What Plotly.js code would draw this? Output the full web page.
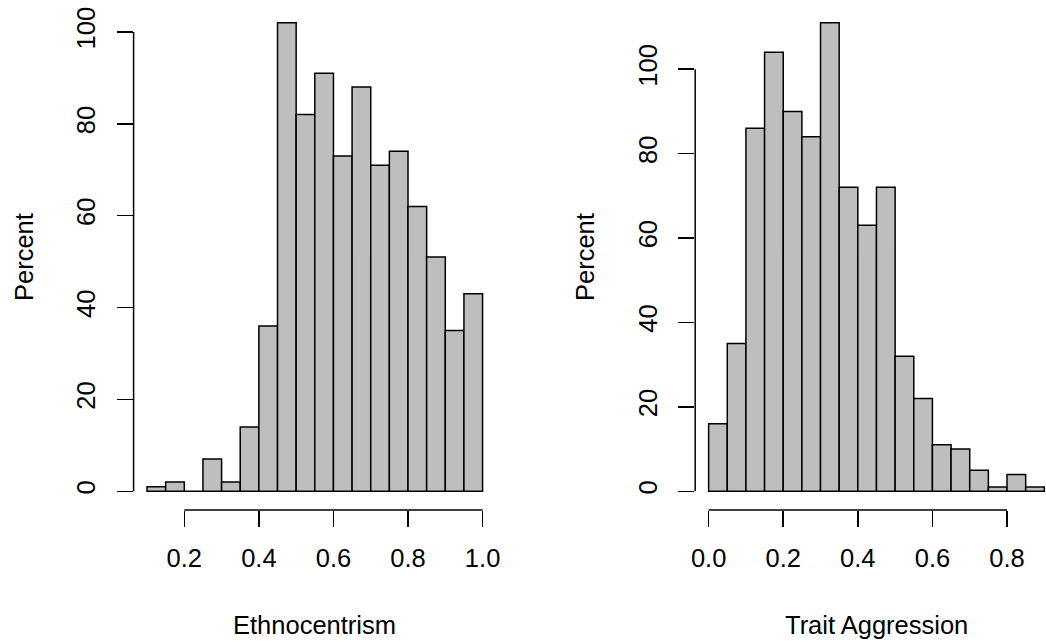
<!DOCTYPE html>
<html><head><meta charset="utf-8">
<script src="https://cdn.plot.ly/plotly-3.0.1.min.js"></script>
<style>html,body{margin:0;padding:0;background:#fff}#chart{width:1046px;height:644px}</style>
</head><body><div id="chart"></div>
<script>
// ---- data ----
const ethnoBinStarts = [0.10,0.15,0.20,0.25,0.30,0.35,0.40,0.45,0.50,0.55,0.60,0.65,0.70,0.75,0.80,0.85,0.90,0.95];
const ethnoCounts    = [1,2,0,7,2,14,36,102,82,91,73,88,71,74,62,51,35,43];
const aggrBinStarts  = [0.00,0.05,0.10,0.15,0.20,0.25,0.30,0.35,0.40,0.45,0.50,0.55,0.60,0.65,0.70,0.75,0.80,0.85];
const aggrCounts     = [16,35,86,104,90,84,111,72,63,72,32,22,11,10,5,1,4,1];
const binWidth = 0.05;
const ethnoXTicks = [0.2,0.4,0.6,0.8,1.0];
const ethnoXTickText = ["0.2","0.4","0.6","0.8","1.0"];
const aggrXTicks = [0.0,0.2,0.4,0.6,0.8];
const aggrXTickText = ["0.0","0.2","0.4","0.6","0.8"];
const yTicks = [0,20,40,60,80,100];
const yTickText = ["0","20","40","60","80","100"];
const xTitles = ["Ethnocentrism","Trait Aggression"];
const yTitle = "Percent";

// ---- layout geometry (pixels) ----
const W = 1046, H = 644;
const FONT = "Liberation Sans, Arial, Helvetica, sans-serif";
const fs = 25.5;
const yDom = [1 - 510/H, 1 - 4/H];
const x1Dom = [133.6/W, 496/W];
const x2Dom = [695.2/W, 1];

function barTrace(starts, counts, xa, ya) {
  return {
    type: 'bar', x: starts, y: counts, width: binWidth, offset: 0,
    xaxis: xa, yaxis: ya,
    marker: {color: '#bebebe', line: {color: '#000', width: 1.5}},
    hoverinfo: 'x+y', showlegend: false
  };
}

function xAxis(dom, range, ticks, text, anchor) {
  return {domain: dom, range: range, anchor: anchor, showgrid: false, zeroline: false,
    showline: false, ticks: 'outside', ticklen: 16, tickwidth: 1.5, tickcolor: '#000',
    tickvals: ticks, ticktext: text, tickfont: {family: FONT, size: fs, color: '#000'},
    ticklabelstandoff: 9, fixedrange: true};
}
function yAxis(range, anchor) {
  return {domain: yDom, range: range, anchor: anchor, showgrid: false, zeroline: false,
    showline: false, ticks: 'outside', ticklen: 16, tickwidth: 1.5, tickcolor: '#000',
    tickvals: yTicks, ticktext: yTickText, tickangle: -90,
    tickfont: {family: FONT, size: fs, color: '#000'}, ticklabelstandoff: 11, fixedrange: true};
}

const data = [
  barTrace(ethnoBinStarts, ethnoCounts, 'x', 'y'),
  barTrace(aggrBinStarts, aggrCounts, 'x2', 'y2')
];

const lineStyle = {color: '#000', width: 1.5};
const shapes = [
  {type: 'line', xref: 'x', yref: 'paper', x0: ethnoXTicks[0], x1: ethnoXTicks[ethnoXTicks.length-1], y0: yDom[0], y1: yDom[0], line: lineStyle},
  {type: 'line', xref: 'paper', yref: 'y', x0: x1Dom[0], x1: x1Dom[0], y0: yTicks[0], y1: yTicks[yTicks.length-1], line: lineStyle},
  {type: 'line', xref: 'x2', yref: 'paper', x0: aggrXTicks[0], x1: aggrXTicks[aggrXTicks.length-1], y0: yDom[0], y1: yDom[0], line: lineStyle},
  {type: 'line', xref: 'paper', yref: 'y2', x0: x2Dom[0], x1: x2Dom[0], y0: yTicks[0], y1: yTicks[yTicks.length-1], line: lineStyle}
];

const annFont = {family: FONT, size: fs, color: '#000'};
const annotations = [
  {text: xTitles[0], xref: 'paper', yref: 'paper', x: (133.6+496)/2/W, y: 1 - 625/H, showarrow: false, font: annFont, xanchor: 'center', yanchor: 'middle'},
  {text: xTitles[1], xref: 'paper', yref: 'paper', x: (695.2+1058)/2/W, y: 1 - 625/H, showarrow: false, font: annFont, xanchor: 'center', yanchor: 'middle'},
  {text: yTitle, xref: 'paper', yref: 'paper', x: 24/W, y: 1 - 257/H, textangle: -90, showarrow: false, font: annFont, xanchor: 'center', yanchor: 'middle'},
  {text: yTitle, xref: 'paper', yref: 'paper', x: 585/W, y: 1 - 257/H, textangle: -90, showarrow: false, font: annFont, xanchor: 'center', yanchor: 'middle'}
];

const layout = {
  width: W, height: H, margin: {l: 0, r: 0, t: 0, b: 0},
  paper_bgcolor: '#fff', plot_bgcolor: 'rgba(0,0,0,0)',
  bargap: 0,
  xaxis: xAxis(x1Dom, [0.064, 1.036], ethnoXTicks, ethnoXTickText, 'y'),
  yaxis: yAxis([-4.08, 106.08], 'x'),
  xaxis2: xAxis(x2Dom, [-0.036, 0.9045], aggrXTicks, aggrXTickText, 'y2'),
  yaxis2: yAxis([-4.44, 115.44], 'x2'),
  shapes: shapes, annotations: annotations
};

Plotly.newPlot('chart', data, layout, {displayModeBar: false, staticPlot: true});
</script></body></html>
